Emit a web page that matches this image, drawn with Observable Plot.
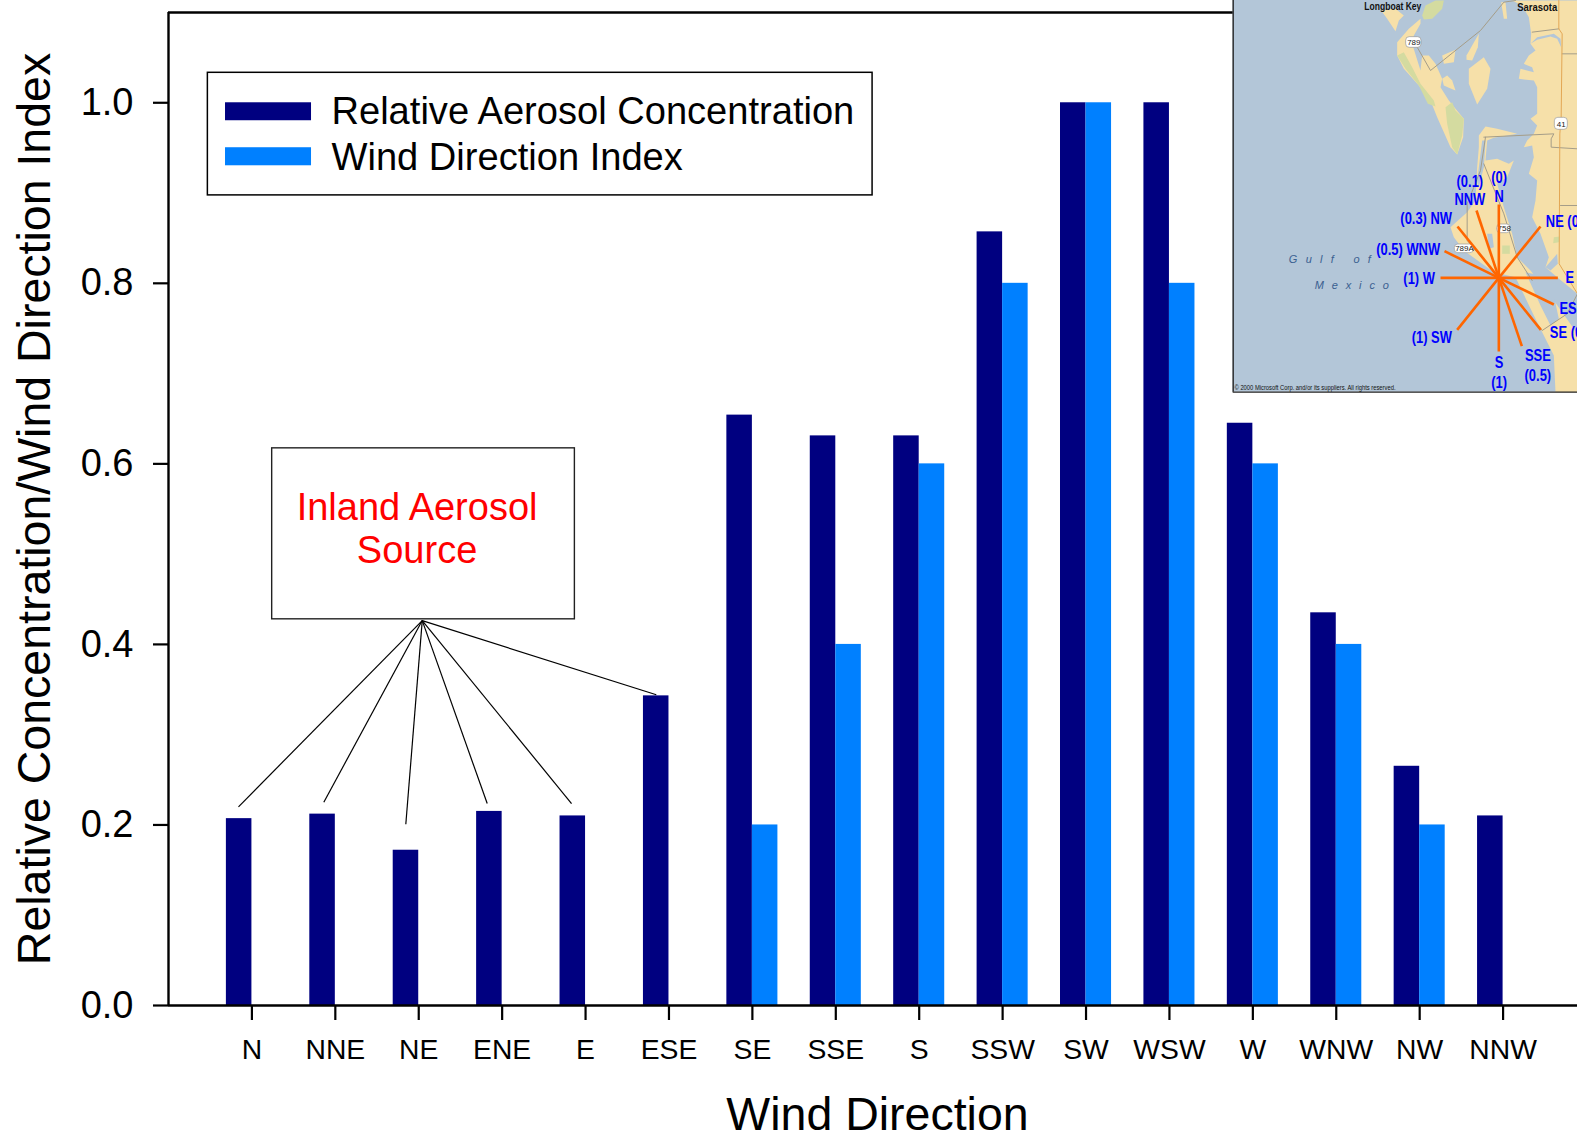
<!DOCTYPE html>
<html>
<head>
<meta charset="utf-8">
<script src="https://cdn.jsdelivr.net/npm/d3@7"></script>
<script src="https://cdn.jsdelivr.net/npm/@observablehq/plot@0.6"></script>
<style>
html,body{margin:0;padding:0;background:#fff;width:1577px;height:1134px;overflow:hidden}
#wrap{position:relative;width:1577px;height:1134px;overflow:hidden}
#wrap svg{position:absolute;display:block;max-width:none;font-family:"Liberation Sans",Arial,sans-serif}
</style>
</head>
<body>
<div id="wrap"></div>
<script>
const directions = ["N","NNE","NE","ENE","E","ESE","SE","SSE","S","SSW","SW","WSW","W","WNW","NW","NNW"];
const aerosol = [0.207,0.212,0.172,0.215,0.21,0.343,0.654,0.631,0.631,0.857,1,1,0.645,0.435,0.265,0.21];
const windIndex = [0,0,0,0,0,0,0.2,0.4,0.6,0.8,1,0.8,0.6,0.4,0.2,0];
const yTicks = [0,0.2,0.4,0.6,0.8,1];
const navy = "#000080", azure = "#0080ff";
const sans = '"Liberation Sans",Arial,sans-serif';

const barWidth = 0.306;
const darkBars = directions.map((d,i)=>({i, v:aerosol[i]}));
const lightBars = directions.map((d,i)=>({i, v:windIndex[i]})).filter(d=>d.v>0);

const legendBox = {x1:-0.528,x2:7.441,y1:0.8974,y2:1.0332};
const legendItems = [
  {label:"Relative Aerosol Concentration", fill:navy, x1:-0.3165,x2:0.7146,y1:0.9801,y2:1,tx:0.954,ty:0.9766},
  {label:"Wind Direction Index", fill:azure, x1:-0.3165,x2:0.7146,y1:0.9302,y2:0.9502,tx:0.954,ty:0.9257}
];
const noteBox = {x1:0.243,x2:3.872,y1:0.4278,y2:0.6172};
const noteLines = [{t:"Inland Aerosol",x:1.98,y:0.5379},{t:"Source",x:1.98,y:0.4898}];
const apex = {x:2.042,y:0.4264};
const leaderEnds = [[-0.161,0.2201],[0.862,0.2252],[1.845,0.2008],[2.821,0.2237],[3.832,0.2237],[4.848,0.3442]];

const chart = Plot.plot({
  width:1586, height:1134,
  marginLeft:168, marginRight:0, marginTop:12, marginBottom:129,
  style:{background:"transparent",fontFamily:sans,color:"#000",maxWidth:"none"},
  x:{domain:[-1,16]},
  y:{domain:[0,1.1]},
  marks:[
    Plot.rect(darkBars,{x1:d=>d.i-barWidth,x2:d=>d.i,y1:0,y2:"v",fill:navy}),
    Plot.rect(lightBars,{x1:d=>d.i,x2:d=>d.i+barWidth,y1:0,y2:"v",fill:azure}),
    Plot.ruleX([-1],{stroke:"#000",strokeWidth:2.4}),
    Plot.ruleY([0],{stroke:"#000",strokeWidth:2.4}),
    Plot.ruleY([1.1],{stroke:"#000",strokeWidth:2.4}),
    Plot.axisX({ticks:d3.range(16),tickFormat:i=>directions[i],tickSize:15,tickPadding:18,fontSize:28.3,label:null,strokeWidth:2.2,stroke:"#000",fill:"#000"}),
    Plot.axisY({ticks:yTicks,tickFormat:d3.format(".1f"),tickSize:15,tickPadding:20,fontSize:38,label:null,strokeWidth:2.2,stroke:"#000",fill:"#000"}),
    Plot.axisX({ticks:[],label:"Wind Direction",labelAnchor:"center",labelArrow:"none",labelOffset:124,fontSize:46.5,fill:"#000"}),
    Plot.axisY({ticks:[],label:"Relative Concentration/Wind Direction Index",labelAnchor:"center",labelArrow:"none",labelOffset:152,fontSize:46.5,fill:"#000"}),
    Plot.rect([legendBox],{x1:"x1",x2:"x2",y1:"y1",y2:"y2",fill:"#fff",stroke:"#000",strokeWidth:1.5}),
    Plot.rect(legendItems,{x1:"x1",x2:"x2",y1:"y1",y2:"y2",fill:"fill"}),
    Plot.text(legendItems,{x:"tx",y:"ty",text:"label",textAnchor:"start",lineAnchor:"bottom",fontSize:38.1,fill:"#000"}),
    Plot.rect([noteBox],{x1:"x1",x2:"x2",y1:"y1",y2:"y2",fill:"#fff",stroke:"#222",strokeWidth:1.4}),
    Plot.text(noteLines,{x:"x",y:"y",text:"t",lineAnchor:"bottom",fontSize:38,fill:"#ff0000"}),
    Plot.link(leaderEnds,{x1:()=>apex.x,y1:()=>apex.y,x2:d=>d[0],y2:d=>d[1],stroke:"#000",strokeWidth:1.2})
  ]
});
chart.style.left="0";chart.style.top="0";
document.getElementById("wrap").appendChild(chart);

/* Inset map: coordinates are the map's own, 3 units per screen pixel */
const water="#b3c6d8", land="#f6e0a9", park="#d4dba0", greyRoad="#a59d88", orangeRoad="#e3a654", spokeColor="#ff6600", labelBlue="#0000ff";
const mapFrame={x1:38,x2:1071,y1:0,y2:1175};
const landPolys=[
 [[482,30],[500,55],[525,92],[535,60],[550,45],[525,25]],
 [[600,55],[565,85],[530,125],[530,165],[550,205],[595,255],[630,300],[650,350],[690,440],[710,462],[728,410],[730,355],[705,325],[685,300],[660,260],[665,235],[645,190],[625,165],[605,165],[600,210],[575,130],[580,105],[600,70]],
 [[665,235],[680,225],[695,240],[705,270],[685,262],[670,255]],
 [[745,205],[790,170],[810,205],[800,265],[770,312],[745,250]],
 [[665,165],[705,148],[700,185],[670,190]],
 [[738,165],[775,100],[772,140],[755,180],[738,178]],
 [[842,5],[850,55],[860,55],[855,5]],
 [[875,0],[905,15],[925,50],[932,100],[930,130],[945,150],[925,165],[910,190],[935,200],[940,215],[900,205],[895,235],[940,240],[950,260],[950,340],[930,355],[950,375],[940,400],[920,420],[910,440],[935,435],[940,470],[925,520],[950,540],[945,600],[935,650],[960,700],[985,770],[975,800],[1010,830],[1071,880],[1071,0]],
 [[690,680],[740,635],[765,600],[770,500],[775,440],[775,405],[795,378],[830,385],[890,400],[820,412],[800,420],[795,480],[830,475],[865,490],[880,480],[860,530],[830,550],[850,620],[875,700],[890,770],[930,810],[1000,900],[1071,1000],[1071,1175],[1005,1175],[1000,1065],[940,945],[885,830],[820,815],[730,750],[700,710]]
];
const parkPolys=[
 [[605,45],[615,15],[645,0],[670,0],[665,25],[635,55],[610,57]],
 [[530,165],[550,155],[575,200],[600,250],[640,300],[645,318],[622,310],[595,255],[555,205]],
 [[675,320],[695,305],[705,330],[730,355],[725,405],[710,462],[695,440],[680,370]],
 [[1000,710],[1018,708],[1015,725],[998,728]],
 [[845,735],[868,735],[868,760],[845,760]]
];
const waterPolys=[
 [[930,130],[950,110],[1000,100],[1020,115],[1022,140],[1010,115],[990,108],[950,118]],
 [[975,800],[1010,760],[1012,790],[990,810]],
 [[915,815],[960,825],[1000,885],[1015,955],[990,975],[960,915]],
 [[785,420],[795,420],[790,500],[775,560],[770,540]],
 [[800,700],[815,700],[820,740],[805,745]]
];
const roads=[
 {c:greyRoad,p:[[590,140],[630,210],[780,90],[850,5],[885,0]]},
 {c:greyRoad,p:[[935,95],[1015,85]]},
 {c:greyRoad,p:[[790,410],[1000,400],[992,415],[992,440],[1071,445]]},
 {c:greyRoad,p:[[795,410],[780,510],[740,610],[740,720],[835,830],[965,990],[1040,940],[1071,880]]},
 {c:greyRoad,p:[[790,490],[850,640],[890,770],[935,840]]},
 {c:greyRoad,p:[[1025,160],[1071,160]]},
 {c:greyRoad,p:[[1020,615],[1071,615]]},
 {c:orangeRoad,p:[[1015,0],[1015,85],[1025,100],[1022,350],[1018,400],[1016,790],[1071,880]]}
];
const polyRows=(polys,prefix)=>polys.flatMap((p,k)=>p.map(q=>({x:q[0],y:q[1],z:prefix+k})));
const roadRows=roads.flatMap((r,k)=>r.p.map(q=>({x:q[0],y:q[1],z:"r"+k,c:r.c})));
const center={x:835,y:832};
const spokes=[[835,612],[768,630],[711,678],[672,752],[660,832],[710,988],[835,1053],[904,1037],[961,988],[1000,912],[1012,832],[960,678]];
const blueMid=[["(0)",836,530],["N",836,587],["(0.1)",748,543],["NNW",748,598],["(0.3) NW",617,654],["(0.5) WNW",563,746],["(1) W",596,835],["(1) SW",634,1012],["S",836,1087],["(1)",836,1147],["SSE",952,1066],["(0.5)",952,1124]];
const blueStart=[["NE (0)",976,662],["E",1035,830],["ESE (0)",1017,925],["SE (0.2)",988,995]];
const placeNames=[["Longboat Key",517,16,57],["Sarasota",950,19,40]];
const shields=[["789",580,126,557,603,110,142],["41",1022,371,1003,1042,352,388],["758",851,685,830,870,672,698],["789A",732,745,703,760,732,758]];
const seaNames=[["Gulf of",328,776,82],["Mexico",394,855,74]];
const credit=[["© 2000 Microsoft Corp. and/or its suppliers. All rights reserved.",42,1162,161]];

const map = Plot.plot({
  width:357,height:400,margin:0,
  style:{background:"transparent",fontFamily:sans,maxWidth:"none"},
  x:{domain:[0,1071],range:[0,357]},
  y:{domain:[0,1200],range:[0,400]},
  marks:[
    Plot.rect([mapFrame],{x1:"x1",x2:"x2",y1:"y1",y2:"y2",fill:water}),
    Plot.line(polyRows(landPolys,"l"),{x:"x",y:"y",z:"z",fill:land,stroke:"none",curve:"linear"}),
    Plot.line(polyRows(parkPolys,"p"),{x:"x",y:"y",z:"z",fill:park,stroke:"none"}),
    Plot.line(polyRows(waterPolys,"w"),{x:"x",y:"y",z:"z",fill:water,stroke:"none"}),
    Plot.line(roadRows,{x:"x",y:"y",z:"z",stroke:"c",strokeWidth:1,fill:"none"}),
    Plot.rect(shields,{x1:d=>d[3],x2:d=>d[4],y1:d=>d[5],y2:d=>d[6],rx:3.5,fill:"#fff",stroke:"#999",strokeWidth:.7}),
    Plot.text(shields,{x:d=>d[1],y:d=>d[2],text:d=>d[0],fontSize:8,fill:"#222"}),
    Plot.text(placeNames,{x:d=>d[1],y:d=>d[2],text:d=>d[0],fontSize:11.5,fontWeight:"bold",fill:"#111"}),
    Plot.text(seaNames,{x:d=>d[1],y:d=>d[2],text:d=>d[0],fontSize:11,fontStyle:"italic",fill:"#3a6090"}),
    Plot.text(credit,{x:d=>d[1],y:d=>d[2],text:d=>d[0],textAnchor:"start",fontSize:7,fill:"#111"}),
    Plot.link(spokes,{x1:()=>center.x,y1:()=>center.y,x2:d=>d[0],y2:d=>d[1],stroke:spokeColor,strokeWidth:2.6}),
    Plot.text(blueMid,{x:d=>d[1],y:d=>d[2],text:d=>d[0],fontSize:17,fontWeight:"bold",fill:labelBlue}),
    Plot.text(blueStart,{x:d=>d[1],y:d=>d[2],text:d=>d[0],textAnchor:"start",fontSize:17,fontWeight:"bold",fill:labelBlue}),
    Plot.ruleX([38],{y1:0,y2:1175,stroke:"#222",strokeWidth:1.4}),
    Plot.ruleY([1175],{x1:38,x2:1071,stroke:"#222",strokeWidth:1.4})
  ]
});
map.style.left="1220px";map.style.top="0";
document.getElementById("wrap").appendChild(map);

/* The map's lettering is condensed; no condensed face is installed, so fit the real text to its measured width. */
const blueTexts=new Set([...blueMid,...blueStart].map(d=>d[0]));
const fitWidths=new Map([...placeNames,...credit].map(d=>[d[0],d[d.length-1]]));
const spreadWidths=new Map(seaNames.map(d=>[d[0],d[3]]));
map.querySelectorAll("text").forEach(t=>{
  const s=t.textContent;
  if(blueTexts.has(s)){
    t.setAttribute("textLength",(t.getComputedTextLength()*0.76).toFixed(1));
    t.setAttribute("lengthAdjust","spacingAndGlyphs");
  }else if(fitWidths.has(s)){
    t.setAttribute("textLength",fitWidths.get(s));
    t.setAttribute("lengthAdjust","spacingAndGlyphs");
  }else if(spreadWidths.has(s)){
    t.setAttribute("textLength",spreadWidths.get(s));
    t.setAttribute("lengthAdjust","spacing");
  }
});
</script>
</body>
</html>
